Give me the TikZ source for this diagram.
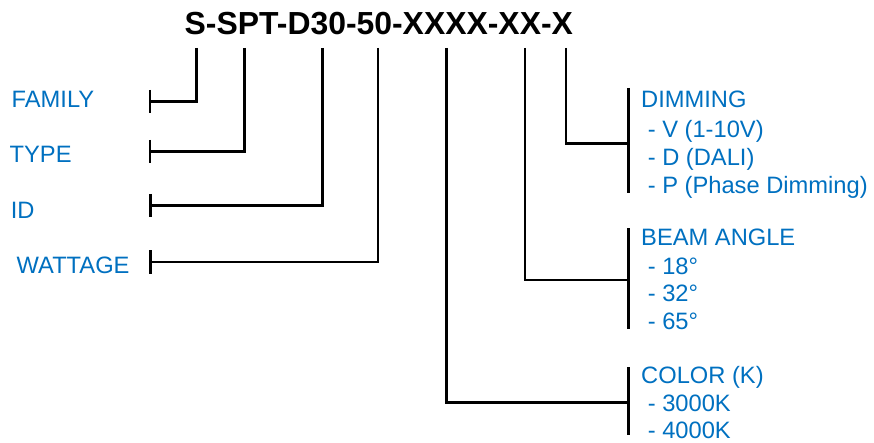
\documentclass[tikz,border=0pt]{standalone}
\usepackage{fontspec}
\setmainfont{Liberation Sans}
\definecolor{lblue}{RGB}{0,112,192}
\begin{document}
\begin{tikzpicture}[x=1pt,y=-1pt,
  lbl/.style={anchor=base west, inner sep=0, text=lblue, font=\fontsize{23.7}{28}\selectfont},
  conn/.style={line width=2.8pt, black}]
\useasboundingbox (0,0) rectangle (874,443);
\node[anchor=base west, inner sep=0, font=\fontsize{31.9}{32}\selectfont\bfseries] (title) at (184.5,35) {S-SPT-D30-50-XXXX-XX-X};
% left labels
\node[lbl] (fam) at (11.5,107.7) {FAMILY};
\node[lbl] (typ) at (9.5,162.3) {TYPE};
\node[lbl] (id) at (10.7,218.3) {ID};
\node[lbl] (wat) at (16.5,273.3) {WATTAGE};
% right labels
\node[lbl] (dim) at (641,107.7) {DIMMING};
\node[lbl] (dim1) at (641,137.2) {\hspace{6.6pt}- V (1-10V)};
\node[lbl] (dim2) at (641,165.3) {\hspace{6.6pt}- D (DALI)};
\node[lbl] (dim3) at (641,193.2) {\hspace{6.6pt}- P (Phase Dimming)};
\node[lbl] (beam) at (641,246) {BEAM ANGLE};
\node[lbl] (beam1) at (641,274.2) {\hspace{6.6pt}- 18°};
\node[lbl] (beam2) at (641,301.8) {\hspace{6.6pt}- 32°};
\node[lbl] (beam3) at (641,329.8) {\hspace{6.6pt}- 65°};
\node[lbl] (col) at (641,383.2) {COLOR (K)};
\node[lbl] (col1) at (641,411.5) {\hspace{6.6pt}- 3000K};
\node[lbl] (col2) at (641,438.3) {\hspace{6.6pt}- 4000K};
% tick tops under title
\coordinate (t1) at (196.7,48);
\coordinate (t2) at (244.5,48);
\coordinate (t3) at (322.5,48);
\coordinate (t4) at (378,48);
\coordinate (t5) at (446.7,48);
\coordinate (t6) at (525,48);
\coordinate (t7) at (566,48);
% left bars
\coordinate (bfam) at (150,101.7);
\coordinate (btyp) at (150,151.5);
\coordinate (bid) at (150.3,205.5);
\coordinate (bwat) at (150.7,262);
\draw[conn] (t1) |- (bfam);
\draw[conn] (t2) |- (btyp);
\draw[conn] (t3) |- (bid);
\draw[conn] (t4) |- (bwat);
\foreach \b in {bfam,btyp,bid,bwat}
  \draw[conn] ([yshift=11.7pt]\b) -- ([yshift=-11.7pt]\b);
% right bars
\coordinate (bdim) at (628.3,143.3);
\coordinate (bbeam) at (628.3,280);
\coordinate (bcol) at (628.3,402.7);
\draw[conn] (t7) |- (bdim);
\draw[conn] (t6) |- (bbeam);
\draw[conn] (t5) |- (bcol);
\coordinate (dimtop) at (628.3,88);
\coordinate (dimbot) at (628.3,193.5);
\coordinate (beamtop) at (628.3,228.5);
\coordinate (beambot) at (628.3,328.5);
\coordinate (coltop) at (628.3,367);
\coordinate (colbot) at (628.3,435);
\draw[conn] (dimtop) -- (dimbot);
\draw[conn] (beamtop) -- (beambot);
\draw[conn] (coltop) -- (colbot);
\end{tikzpicture}
\end{document}
